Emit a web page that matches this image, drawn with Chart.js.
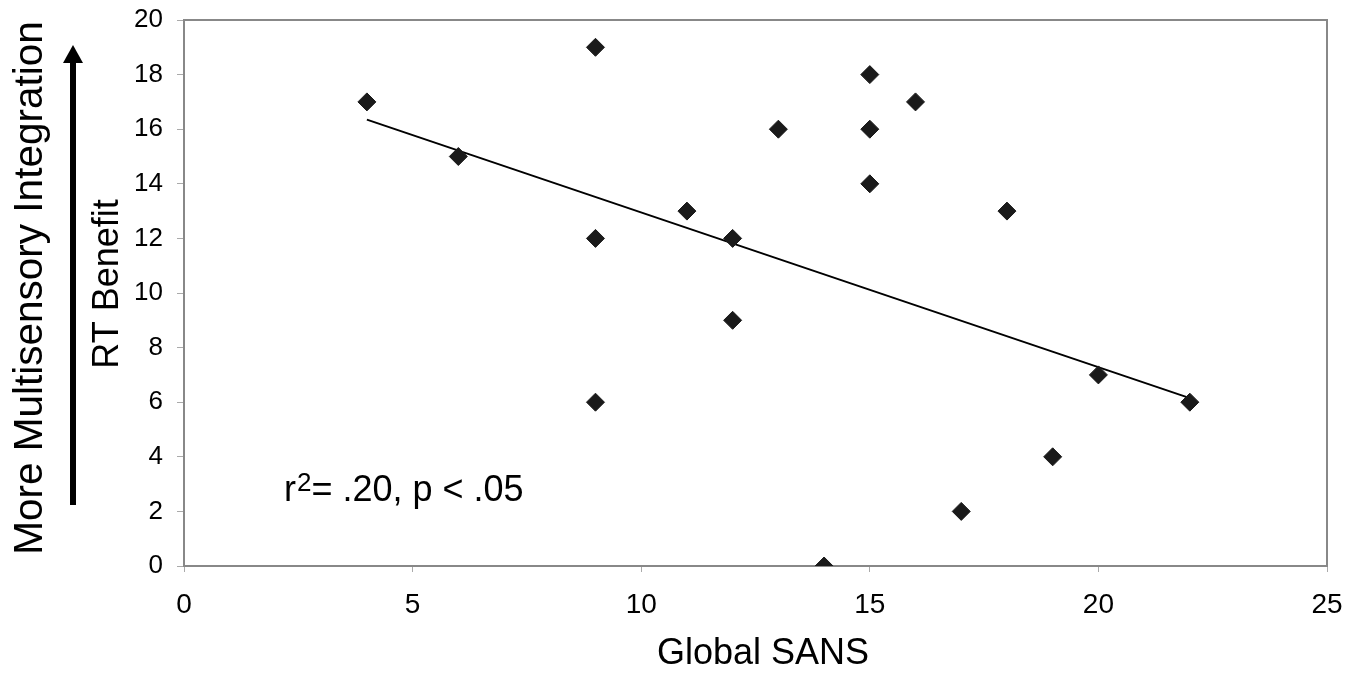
<!DOCTYPE html>
<html>
<head>
<meta charset="utf-8">
<script src="https://cdn.jsdelivr.net/npm/chart.js@4.4.1/dist/chart.umd.min.js"></script>
<style>
  html, body { margin: 0; padding: 0; background: #fff; }
  #wrap { width: 1358px; height: 673px; }
</style>
</head>
<body>
<div id="wrap"><canvas id="myChart" width="1358" height="673"></canvas></div>
<script>
// data
const sansScores = [4, 6, 9, 9, 9, 11, 12, 12, 13, 14, 15, 15, 15, 16, 17, 18, 19, 20, 22];
const rtBenefit = [17, 15, 19, 12, 6, 13, 12, 9, 16, 0, 18, 16, 14, 17, 2, 13, 4, 7, 6];
const fitX = [4, 22];
const fitY = [16.35, 6.15];
const xTicks = [0, 5, 10, 15, 20, 25];
const yTicks = [0, 2, 4, 6, 8, 10, 12, 14, 16, 18, 20];

const points = sansScores.map((v, i) => ({ x: v, y: rtBenefit[i] }));
const fitLine = fitX.map((v, i) => ({ x: v, y: fitY[i] }));

const FONT = "'Liberation Sans', Arial, sans-serif";

// plot frame + titles + arrow + stats text
const extras = {
  id: 'extras',
  beforeDatasetsDraw(chart) {
    const ctx = chart.ctx;
    const a = chart.chartArea;
    ctx.save();
    ctx.strokeStyle = '#888';
    ctx.lineWidth = 2;
    ctx.strokeRect(a.left, a.top, a.right - a.left, a.bottom - a.top);
    ctx.restore();
  },
  afterDraw(chart) {
    const ctx = chart.ctx;
    ctx.save();
    ctx.fillStyle = '#000';

    // x title
    ctx.font = '36px ' + FONT;
    ctx.textAlign = 'center';
    ctx.textBaseline = 'alphabetic';
    ctx.fillText('Global SANS', 763, 664);

    // y titles
    ctx.save();
    ctx.translate(118, 284);
    ctx.rotate(-Math.PI / 2);
    ctx.font = '36px ' + FONT;
    ctx.fillText('RT Benefit', 0, 0);
    ctx.restore();

    ctx.save();
    ctx.translate(42, 288);
    ctx.rotate(-Math.PI / 2);
    ctx.font = '40.5px ' + FONT;
    ctx.fillText('More Multisensory Integration', 0, 0);
    ctx.restore();

    // arrow
    ctx.fillRect(70, 60, 6, 445);
    ctx.beginPath();
    ctx.moveTo(73, 45);
    ctx.lineTo(83, 63);
    ctx.lineTo(63, 63);
    ctx.closePath();
    ctx.fill();

    // r^2 text
    ctx.textAlign = 'left';
    let x = 284;
    const base = 501;
    ctx.font = '36px ' + FONT;
    ctx.fillText('r', x, base);
    x += ctx.measureText('r').width + 1;
    ctx.font = '26px ' + FONT;
    ctx.fillText('2', x, base - 10);
    x += ctx.measureText('2').width;
    ctx.font = '36px ' + FONT;
    ctx.fillText('= .20, p < .05', x, base);
    ctx.restore();
  }
};

const ctx = document.getElementById('myChart').getContext('2d');
const myChart = new Chart(ctx, {
  type: 'scatter',
  data: {
    datasets: [
      {
        label: 'RT Benefit',
        data: points,
        pointStyle: 'rectRot',
        pointRadius: 9,
        pointBackgroundColor: '#1a1a1a',
        pointBorderColor: '#1a1a1a',
        pointBorderWidth: 1
      },
      {
        type: 'line',
        label: 'fit',
        data: fitLine,
        borderColor: '#000',
        borderWidth: 2,
        pointRadius: 0,
        fill: false
      }
    ]
  },
  options: {
    responsive: false,
    animation: false,
    layout: { padding: { top: 20, right: 31, left: 0, bottom: 0 } },
    plugins: {
      legend: { display: false },
      tooltip: { enabled: false }
    },
    scales: {
      x: {
        type: 'linear',
        min: 0,
        max: 25,
        afterFit: s => { s.height = 107; s.paddingLeft = 0; s.paddingRight = 0; },
        afterBuildTicks: s => { s.ticks = xTicks.map(v => ({ value: v })); },
        ticks: { color: '#000', font: { family: FONT, size: 28 }, padding: 16 },
        grid: { drawOnChartArea: false, tickLength: 6, color: '#aaa' },
        border: { color: '#888', width: 2 }
      },
      y: {
        type: 'linear',
        min: 0,
        max: 20,
        afterFit: s => { s.width = 184; s.paddingTop = 0; s.paddingBottom = 0; },
        afterBuildTicks: s => { s.ticks = yTicks.map(v => ({ value: v })); },
        ticks: { color: '#000', font: { family: FONT, size: 26 }, padding: 14 },
        grid: { drawOnChartArea: false, tickLength: 7, color: '#aaa' },
        border: { color: '#888', width: 2 }
      }
    }
  },
  plugins: [extras]
});
</script>
</body>
</html>
